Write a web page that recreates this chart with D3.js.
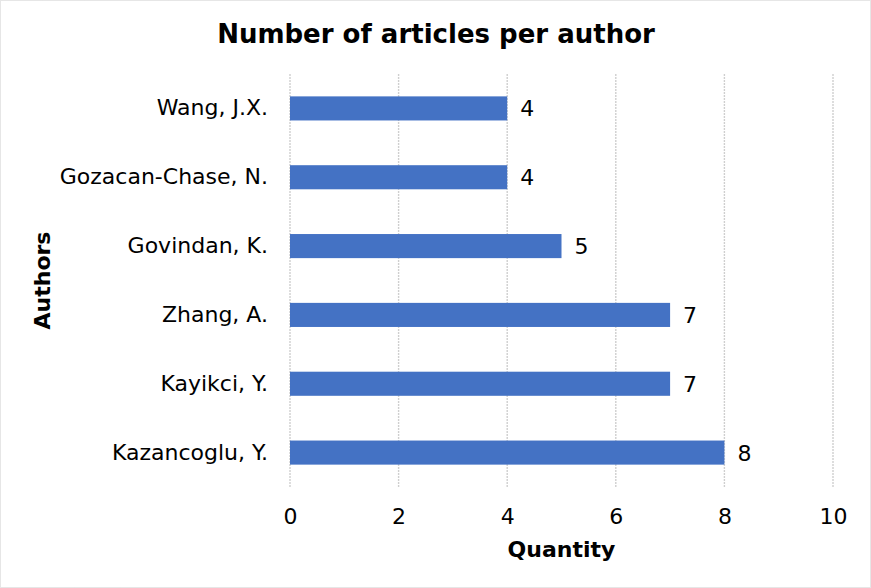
<!DOCTYPE html>
<html><head><meta charset="utf-8">
<script src="https://cdn.jsdelivr.net/npm/d3@7"></script>
<style>body{margin:0;background:#fff}svg{display:block}</style>
</head><body>
<script>
const authors = ["Wang, J.X.", "Gozacan-Chase, N.", "Govindan, K.", "Zhang, A.", "Kayikci, Y.", "Kazancoglu, Y."];
const articles = [4, 4, 5, 7, 7, 8];
const xTicks = [0, 2, 4, 6, 8, 10];
const title = "Number of articles per author";
const xTitle = "Quantity";
const yTitle = "Authors";

const W = 871, H = 588;
const font = "'DejaVu Sans', Verdana, sans-serif";
const m = {left: 290, right: 38, top: 74, bottom: 101};
const svg = d3.select("body").append("svg").attr("width", W).attr("height", H);
svg.append("rect").attr("x", 0.5).attr("y", 0.5).attr("width", W - 1).attr("height", H - 1)
  .attr("fill", "#fff").attr("stroke", "#cccccc").attr("stroke-dasharray", "1,1");

const x = d3.scaleLinear().domain([0, 10]).range([m.left, W - m.right]);
const y = d3.scaleBand().domain(authors).range([m.top, H - m.bottom]).paddingInner(0.65).paddingOuter(0.325);

// gridlines
svg.append("g").selectAll("line").data(xTicks).join("line")
  .attr("x1", d => x(d)).attr("x2", d => x(d))
  .attr("y1", m.top).attr("y2", H - m.bottom)
  .attr("stroke", "#cfcfcf").attr("stroke-width", 1.4).attr("stroke-dasharray", "2,1");

// bars
svg.append("g").selectAll("rect").data(authors).join("rect")
  .attr("x", x(0)).attr("y", d => y(d))
  .attr("width", (d, i) => x(articles[i]) - x(0)).attr("height", y.bandwidth())
  .attr("fill", "#4472c4");

// value labels
svg.append("g").selectAll("text").data(authors).join("text")
  .attr("x", (d, i) => x(articles[i]) + 13).attr("y", d => y(d) + y.bandwidth() / 2)
  .attr("dy", "0.36em").attr("font-family", font).attr("font-size", 22).attr("fill", "#000")
  .text((d, i) => articles[i]);

// y axis labels
const yAxis = d3.axisLeft(y).tickSize(0).tickPadding(22);
const gy = svg.append("g").attr("transform", `translate(${m.left},0)`).call(yAxis);
gy.select(".domain").remove();
gy.selectAll("text").attr("font-family", font).attr("font-size", 22).attr("fill", "#000");

// x axis labels
const xAxis = d3.axisBottom(x).tickValues(xTicks).tickSize(0).tickPadding(21);
const gx = svg.append("g").attr("transform", `translate(0,${H - m.bottom})`).call(xAxis);
gx.select(".domain").remove();
gx.selectAll("text").attr("font-family", font).attr("font-size", 22).attr("fill", "#000");

// titles
svg.append("text").attr("x", 436).attr("y", 43).attr("text-anchor", "middle")
  .attr("font-family", font).attr("font-weight", "bold").attr("font-size", 26).text(title);
svg.append("text").attr("x", x(5)).attr("y", 557).attr("text-anchor", "middle")
  .attr("font-family", font).attr("font-weight", "bold").attr("font-size", 22).text(xTitle);
svg.append("text").attr("transform", `translate(50,${(m.top + H - m.bottom) / 2}) rotate(-90)`)
  .attr("text-anchor", "middle")
  .attr("font-family", font).attr("font-weight", "bold").attr("font-size", 22).text(yTitle);
</script>
</body></html>
